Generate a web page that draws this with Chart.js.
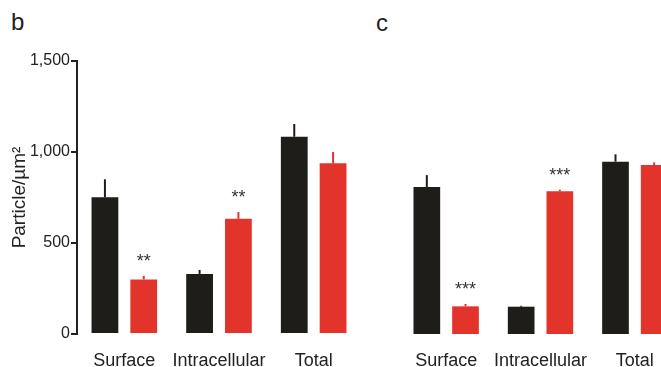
<!DOCTYPE html>
<html>
<head>
<meta charset="utf-8">
<script src="https://cdn.jsdelivr.net/npm/chart.js@4.4.1/dist/chart.umd.min.js"></script>
<style>
  html, body { margin: 0; padding: 0; background: #fff; overflow: hidden; }
  #wrap { position: relative; width: 661px; height: 367px; overflow: hidden; font-family: "Liberation Sans", Arial, sans-serif; }
  canvas { position: absolute; top: 0; }
  .letter { position: absolute; font-size: 24px; line-height: 24px; color: #222; }
</style>
</head>
<body>
<div id="wrap">
  <div class="letter" style="left:11px;top:10px;">b</div>
  <div class="letter" style="left:376px;top:11px;">c</div>
  <canvas id="chartB" width="370" height="367" style="left:0px;"></canvas>
  <canvas id="chartC" width="290" height="367" style="left:399px;"></canvas>
</div>
<script>
// categories
var categories = ["Surface", "Intracellular", "Total"];
var yTicks = [0, 500, 1000, 1500];

// panel b values (mean and upper error)
var bBlack = [751, 330, 1084];
var bBlackErr = [99, 22, 70];
var bRed = [300, 633, 938];
var bRedErr = [19, 37, 62];
var bStars = ["**", "**", ""];

// panel c values
var cBlack = [808, 150, 947];
var cBlackErr = [65, 5, 40];
var cRed = [152, 784, 928];
var cRedErr = [13, 9, 15];
var cStars = ["***", "***", ""];

//colours
var black = "#1e1d1a";
var red = "#e3342c";
var font = "'Liberation Sans', Arial, sans-serif";

// draws the error bars + significance stars on top of the bars
var errorBars = {
    id: "errorBars",
    afterDatasetsDraw: function(chart) {
        var ctx = chart.ctx;
        var y = chart.scales.y;
        ctx.save();
        chart.data.datasets.forEach(function(ds, i) {
            chart.getDatasetMeta(i).data.forEach(function(bar, j) {
                var top = y.getPixelForValue(ds.data[j] + ds.errors[j]);
                ctx.strokeStyle = ds.backgroundColor;
                ctx.lineWidth = 2;
                ctx.beginPath();
                ctx.moveTo(bar.x, bar.y);
                ctx.lineTo(bar.x, top);
                ctx.stroke();
                if (ds.stars && ds.stars[j]) {
                    ctx.fillStyle = "#333";
                    ctx.font = "18px " + font;
                    ctx.textAlign = "center";
                    ctx.textBaseline = "alphabetic";
                    ctx.fillText(ds.stars[j], bar.x, top - 9);
                }
            });
        });
        ctx.restore();
    }
};

function makeChart(id, blackVals, blackErr, redVals, redErr, stars, showY) {
    return new Chart(id, {
        type: "bar",
        data: {
            labels: categories,
            datasets: [{
                data: blackVals,
                errors: blackErr,
                backgroundColor: black,
                borderWidth: 0,
                categoryPercentage: 0.82,
                barPercentage: 0.69
            }, {
                data: redVals,
                errors: redErr,
                stars: stars,
                backgroundColor: red,
                borderWidth: 0,
                categoryPercentage: 0.82,
                barPercentage: 0.69
            }]
        },
        options: {
            responsive: false,
            animation: false,
            layout: {
                padding: { top: 61, right: showY ? 9 : 7, bottom: 0, left: 0 }
            },
            plugins: {
                legend: { display: false },
                tooltip: { enabled: false }
            },
            scales: {
                x: {
                    grid: { display: false },
                    border: { display: false },
                    ticks: {
                        color: "#222",
                        font: { family: font, size: 18 },
                        padding: 8,
                        maxRotation: 0,
                        minRotation: 0,
                        autoSkip: false
                    },
                    afterFit: function(scale) {
                        scale.height = 33;
                        scale.paddingLeft = 0;
                        scale.paddingRight = 0;
                    }
                },
                y: {
                    display: showY,
                    min: 0,
                    max: 1500,
                    afterBuildTicks: function(scale) {
                        scale.ticks = yTicks.map(function(v) { return { value: v }; });
                    },
                    grid: { drawOnChartArea: false, drawTicks: true, tickLength: 6, color: "#222", lineWidth: 2 },
                    border: { display: true, color: "#222", width: 2 },
                    ticks: { color: "#222", font: { family: font, size: 16 }, padding: 1 },
                    title: {
                        display: true,
                        text: "Particle/\u00b5m\u00b2",
                        color: "#222",
                        font: { family: font, size: 19 },
                        padding: { top: 8, bottom: 0 }
                    },
                    afterFit: function(scale) {
                        // only the left panel has a visible y axis
                        scale.width = showY ? 77 : 0;
                        scale.paddingTop = 0;
                        scale.paddingBottom = 0;
                    }
                }
            }
        },
        plugins: [errorBars]
    });
}

makeChart("chartB", bBlack, bBlackErr, bRed, bRedErr, bStars, true);
makeChart("chartC", cBlack, cBlackErr, cRed, cRedErr, cStars, false);
</script>
</body>
</html>
